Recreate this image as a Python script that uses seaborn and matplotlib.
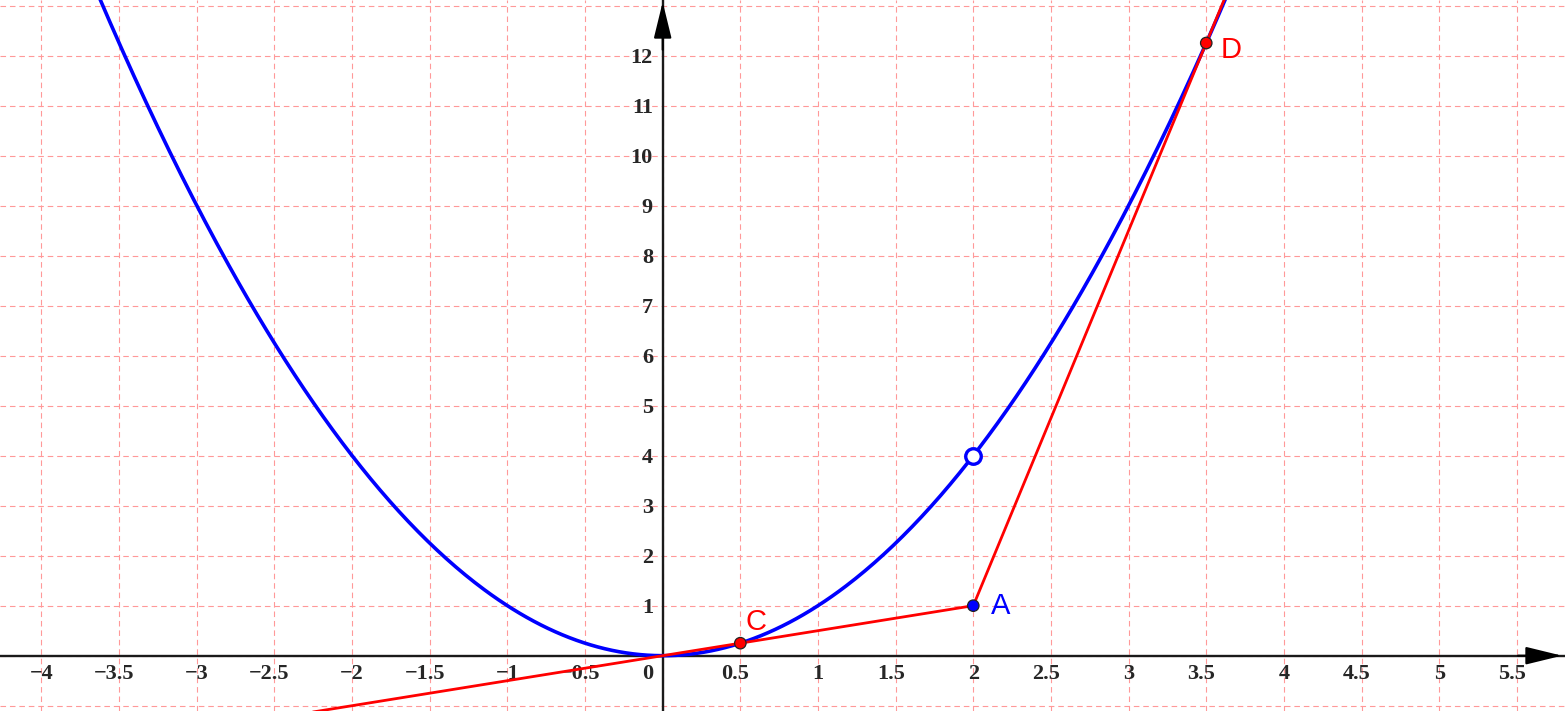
import numpy as np
import pandas as pd
import matplotlib.pyplot as plt
import seaborn as sns

# view window (data units)
x_min, x_max = -4.267, 5.81
y_min, y_max = -1.106, 13.11

# blue curve y = a*x^2
parab_a = 1.0
curve_x = np.linspace(-3.8, 3.8, 500)
curve_y = parab_a * curve_x ** 2

# red broken line: ray through origin to A, then A -> D extended
red_x = [-2.4, 2.0, 3.65]
red_y = [-1.2, 1.0, 13.375]

# named points
pt_names = ["A", "C", "D"]
pt_x = [2.0, 0.5, 3.5]
pt_y = [1.0, 0.25, 12.25]
pt_colors = ["#0000ff", "#ff0000", "#ff0000"]
hole_x, hole_y = 2.0, 4.0

x_ticks = [-4, -3.5, -3, -2.5, -2, -1.5, -1, -0.5, 0, 0.5, 1, 1.5, 2, 2.5, 3, 3.5, 4, 4.5, 5, 5.5]
y_ticks = [1, 2, 3, 4, 5, 6, 7, 8, 9, 10, 11, 12]

sns.set_style("white")
plt.rcParams["font.family"] = ["Liberation Serif", "DejaVu Serif"]

fig = plt.figure(figsize=(15.65, 7.11), dpi=100)
ax = fig.add_axes([0, 0, 1, 1])

# grid
ax.set_xticks(np.arange(-4, 6, 0.5))
ax.set_yticks(np.arange(-1, 14, 1))
ax.grid(True, color="#ff9999", linestyle=(0, (5, 3.5)), linewidth=0.8)
ax.tick_params(length=0, labelbottom=False, labelleft=False)
for s in ax.spines.values():
    s.set_visible(False)

# axes lines with arrows
ax.axhline(0, color="#1a1a1a", lw=1.7, zorder=2)
ax.axvline(0, color="#1a1a1a", lw=1.7, zorder=2)
ax.annotate("", xy=(1.0 - 3 / 1565, 0), xycoords=("axes fraction", "data"),
            xytext=(0.97, 0), textcoords=("axes fraction", "data"),
            arrowprops=dict(arrowstyle="-|>,head_length=2.25,head_width=0.55",
                            mutation_scale=10, color="black", lw=1.5, shrinkA=0, shrinkB=0),
            zorder=3)
ax.annotate("", xy=(0, 1.0 - 2 / 711), xycoords=("data", "axes fraction"),
            xytext=(0, 0.93), textcoords=("data", "axes fraction"),
            arrowprops=dict(arrowstyle="-|>,head_length=2.25,head_width=0.55",
                            mutation_scale=10, color="black", lw=1.5, shrinkA=0, shrinkB=0),
            zorder=3)

# tick labels
fs = 16
for t in x_ticks:
    lab = ("%g" % t).replace("-", "\u2212")
    dx = -3.5 if "." in lab else 0
    if t == 0:
        ax.annotate(lab, (0, 0), xytext=(-7, -6), textcoords="offset points",
                    ha="right", va="top", fontsize=fs, fontweight="bold")
    else:
        ax.annotate(lab, (t, 0), xytext=(dx, -6), textcoords="offset points",
                    ha="center", va="top", fontsize=fs, fontweight="bold")
for t in y_ticks:
    ax.annotate(str(t), (0, t), xytext=(-7, -1.5), textcoords="offset points",
                ha="right", va="center", fontsize=fs, fontweight="bold")

# curve and lines
sns.lineplot(x=curve_x, y=curve_y, color="#0000ff", lw=2.6, sort=False, ax=ax, zorder=4)
sns.lineplot(x=red_x, y=red_y, color="#ff0000", lw=2.0, sort=False, ax=ax, zorder=5)

# points
pts = pd.DataFrame({"name": pt_names, "x": pt_x, "y": pt_y, "c": pt_colors})
ax.scatter(pts["x"], pts["y"], s=68, c=pts["c"], edgecolors="#222222", linewidths=0.9, zorder=6)
ax.scatter([hole_x], [hole_y], s=125, facecolors="white", edgecolors="#0000ff", linewidths=2.4, zorder=6)

label_off = {"A": (12.5, 0), "C": (3.5, 15), "D": (10, -5)}
for _, r in pts.iterrows():
    ax.annotate(r["name"], (r["x"], r["y"]), xytext=label_off[r["name"]], textcoords="offset points",
                ha="left", va="center", color=r["c"], fontsize=21, family="Liberation Sans")

ax.set_xlim(x_min, x_max)
ax.set_ylim(y_min, y_max)

fig.savefig("out.png", dpi=100)
